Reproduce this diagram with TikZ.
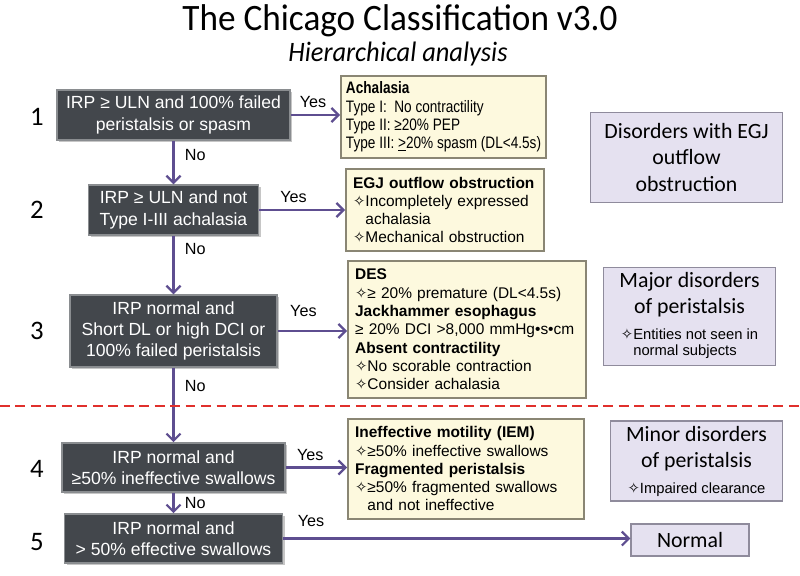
\documentclass[tikz,border=0pt]{standalone}
\usepackage{fontspec}
\setmainfont{Liberation Sans}
\newfontfamily\calib{Carlito}
\newfontfamily\dejavu{DejaVu Sans}
\newfontfamily\narrowfont[FakeStretch=0.82]{Liberation Sans}
\usetikzlibrary{shapes,arrows.meta,shadows}
\definecolor{tdark}{HTML}{43474C}
\definecolor{tgray}{HTML}{8A8D90}
\definecolor{ryellow}{HTML}{FDF9DE}
\definecolor{rborder}{HTML}{8A8674}
\definecolor{gpurple}{HTML}{E5E1F0}
\definecolor{gborder}{HTML}{8F8B9C}
\definecolor{arrowc}{HTML}{5E4E90}
\definecolor{sepred}{HTML}{E0302C}
\newcommand{\dia}{{\dejavu\fontsize{10.5}{11}\selectfont ✧}}

\begin{document}
\begin{tikzpicture}[x=0.025cm,y=-0.025cm,
  test/.style={draw=tgray,line width=1pt,fill=tdark,text=white,align=center,inner sep=2pt,font=\fontsize{12.5}{15}\selectfont,drop shadow={shadow xshift=1.5pt,shadow yshift=-1.5pt,opacity=0.45}},
  result/.style={draw=rborder,line width=1.3pt,fill=ryellow,anchor=north west,align=left,inner xsep=0.18cm,inner ysep=0.1cm,font=\fontsize{11}{13}\selectfont},
  group/.style={draw=gborder,line width=0.8pt,fill=gpurple,align=center,inner sep=2pt,font=\calib\fontsize{15.5}{18.5}\selectfont},
  arr/.style={-{Straight Barb[length=5pt,width=10pt]},draw=arrowc,line width=1.6pt},
  yes/.style={above=1pt,font=\fontsize{11.5}{13}\selectfont,text=black},
  no/.style={right=4pt,font=\fontsize{11.5}{13}\selectfont,text=black},
  num/.style={font=\calib\fontsize{19}{22}\selectfont},
  sep/.style={draw=sepred,line width=1.4pt,dash pattern=on 7pt off 4pt}]
\useasboundingbox (0,0) rectangle (800,576);

\node[anchor=base] (title) at (400,31) {\calib\fontsize{26.5}{30}\selectfont\scalebox{0.945}[1]{The Chicago Classification v3.0}};
\node[anchor=base] (subtitle) at (398,62) {\calib\itshape\fontsize{20}{24}\selectfont\scalebox{0.94}[1]{Hierarchical analysis}};

\node[num] (n1) at (37,117) {1};
\node[num] (n2) at (37,210) {2};
\node[num] (n3) at (37,331) {3};
\node[num] (n4) at (37,469) {4};
\node[num] (n5) at (37,542) {5};

\node[test,minimum width=5.83cm,minimum height=1.25cm] (q1) at (173.5,115) {IRP ≥ ULN and 100\% failed\\peristalsis or spasm};
\node[test,minimum width=4.25cm,minimum height=1.25cm] (q2) at (173.5,210) {IRP ≥ ULN and not\\Type I-III achalasia};
\node[test,minimum width=5.18cm,minimum height=1.8cm] (q3) at (173.5,331) {IRP normal and\\Short DL or high DCI or\\100\% failed peristalsis};
\node[test,minimum width=5.58cm,minimum height=1.23cm] (q4) at (173.5,467.5) {IRP normal and\\≥50\% ineffective swallows};
\node[test,minimum width=5.45cm,minimum height=1.23cm] (q5) at (173.5,538.5) {IRP normal and\\> 50\% effective swallows};

\node[result,minimum width=5.13cm,minimum height=2.05cm,inner xsep=0.12cm,font=\narrowfont\fontsize{11.8}{13}\selectfont] (r1) at (340,75) {\textbf{Achalasia}\\Type I:\ \ No contractility\\Type II: ≥20\% PEP\\Type III: \underline{>}20\% spasm (DL<4.5s)};
\node[result,text width=4.59cm,minimum height=2.05cm] (r2) at (345,168) {\textbf{EGJ outflow obstruction}\\\dia Incompletely expressed\\\phantom{\dia}achalasia\\\dia Mechanical obstruction};
\node[result,text width=5.59cm,minimum height=3.43cm] (r3) at (347,260) {\textbf{DES}\\\dia≥ 20\% premature (DL<4.5s)\\\textbf{Jackhammer esophagus}\\≥ 20\% DCI >8,000 mmHg•s•cm\\\textbf{Absent contractility}\\\dia No scorable contraction\\\dia Consider achalasia};
\node[result,text width=5.54cm,minimum height=2.5cm] (r4) at (347,418) {\textbf{Ineffective motility (IEM)}\\\dia≥50\% ineffective swallows\\\textbf{Fragmented peristalsis}\\\dia≥50\% fragmented swallows\\\phantom{\dia}and not ineffective};

\node[group,minimum width=4.78cm,minimum height=2.23cm] (g1) at (686.5,157.5) {Disorders with EGJ\\outflow\\obstruction};
\node[group,minimum width=4.28cm,minimum height=2.43cm] (g2) at (689.5,316.5) {Major disorders\\of peristalsis\\{\normalfont\fontsize{10.5}{12}\selectfont\begin{tabular}[t]{@{}l@{}}\dia Entities not seen in\\\phantom{\dia}normal subjects\end{tabular}}};
\node[group,minimum width=4.28cm,minimum height=2cm] (g3) at (696.5,461) {Minor disorders\\of peristalsis\\{\normalfont\fontsize{10.5}{12}\selectfont\dia Impaired clearance}};
\node[group,minimum width=2.95cm,minimum height=0.8cm] (g4) at (690,540) {Normal};

\draw [arr] (q1.south) -- node[no,pos=0.33] {No} (q2.north);
\draw [arr] (q2.south) -- node[no,pos=0.22] {No} (q3.north);
\draw [arr] (q3.south) -- node[no,pos=0.24] {No} (q4.north);
\draw [arr] (q4.south) -- node[no,pos=0.5] {No} (q5.north);

\draw [arr] (q1.east) -- node[yes,pos=0.45] {Yes} (q1.east -| r1.west);
\draw [arr] (q2.east) -- node[yes,pos=0.4] {Yes} (q2.east -| r2.west);
\draw [arr] (q3.east) -- node[yes,pos=0.37,above=5pt] {Yes} (q3.east -| r3.west);
\draw [arr] (q4.east) -- node[yes,pos=0.4] {Yes} (q4.east -| r4.west);
\draw [arr] (q5.east) -- node[yes,pos=0.08,above=3pt] {Yes} (q5.east -| g4.west);

\draw[sep] (0,406) -- (800,406);
\end{tikzpicture}
\end{document}
